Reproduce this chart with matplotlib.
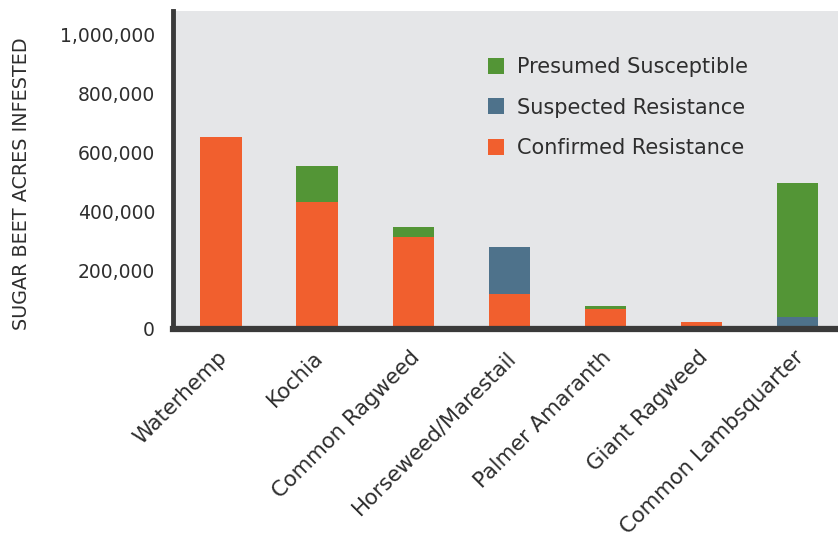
import matplotlib
matplotlib.use("Agg")
import matplotlib.pyplot as plt
import matplotlib.transforms as mtransforms
import numpy as np
from matplotlib.patches import Patch
from matplotlib.ticker import FuncFormatter

# ── Data ───────────────────────────────────────────────────────────────
weeds = ["Waterhemp", "Kochia", "Common Ragweed", "Horseweed/Marestail",
         "Palmer Amaranth", "Giant Ragweed", "Common Lambsquarter"]
confirmed = [652000, 433000, 311000, 120000, 69000, 24000, 0]
suspected = [0, 0, 0, 159000, 0, 0, 42000]
presumed = [0, 122000, 37000, 0, 9500, 0, 453000]

C_CONF = "#F15F2E"
C_SUSP = "#4E728B"
C_PRES = "#539536"
BG = "#E5E6E8"
INK = "#2E2E2E"

plt.rcParams["font.family"] = ["DejaVu Sans"]

fig = plt.figure(figsize=(8.38, 5.37), dpi=100)
ax = fig.add_axes([173 / 838, 1 - 329 / 537, 665 / 838, 318 / 537])
ax.set_facecolor(BG)

x = np.arange(len(weeds))
w = 0.43
conf = np.array(confirmed)
susp = np.array(suspected)
pres = np.array(presumed)
ax.bar(x, conf, w, color=C_CONF, linewidth=0, zorder=2)
ax.bar(x, susp, w, bottom=conf, color=C_SUSP, linewidth=0, zorder=2)
ax.bar(x, pres, w, bottom=conf + susp, color=C_PRES, linewidth=0, zorder=2)

ax.set_xlim(-0.5, 6.42)
ax.set_ylim(0, 1080000)
ax.set_yticks(np.arange(0, 1000001, 200000))
ax.yaxis.set_major_formatter(FuncFormatter(lambda v, p: f"{int(v):,}"))

for s in ("top", "right"):
    ax.spines[s].set_visible(False)
ax.spines["left"].set_linewidth(3.5)
ax.spines["bottom"].set_linewidth(4.5)
ax.spines["left"].set_color("#3A3A3A")
ax.spines["bottom"].set_color("#3A3A3A")

ax.tick_params(axis="y", length=0, pad=13, labelsize=13.5, labelcolor=INK)
ax.tick_params(axis="x", length=0, pad=13, labelsize=15.3, labelcolor=INK)
ax.set_xticks(x)
ax.set_xticklabels(weeds, rotation=45, ha="right", va="top",
                   rotation_mode="anchor")
# nudge rotated labels a touch left, like the reference
shift = mtransforms.ScaledTranslation(-4 / 100, 0, fig.dpi_scale_trans)
for lbl in ax.get_xticklabels():
    lbl.set_transform(lbl.get_transform() + shift)

ax.set_ylabel("SUGAR BEET ACRES INFESTED", fontsize=13.8, color=INK)
ax.yaxis.set_label_coords(-0.2135, 0.456)

handles = [Patch(facecolor=C_PRES, label="Presumed Susceptible"),
           Patch(facecolor=C_SUSP, label="Suspected Resistance"),
           Patch(facecolor=C_CONF, label="Confirmed Resistance")]
leg = ax.legend(handles=handles, loc="upper left",
                bbox_to_anchor=(0.445, 0.915), frameon=False, fontsize=15,
                handlelength=0.8, handleheight=0.8, handletextpad=0.62,
                labelspacing=1.0, labelcolor=INK)

fig.savefig("out.png", dpi=100)
